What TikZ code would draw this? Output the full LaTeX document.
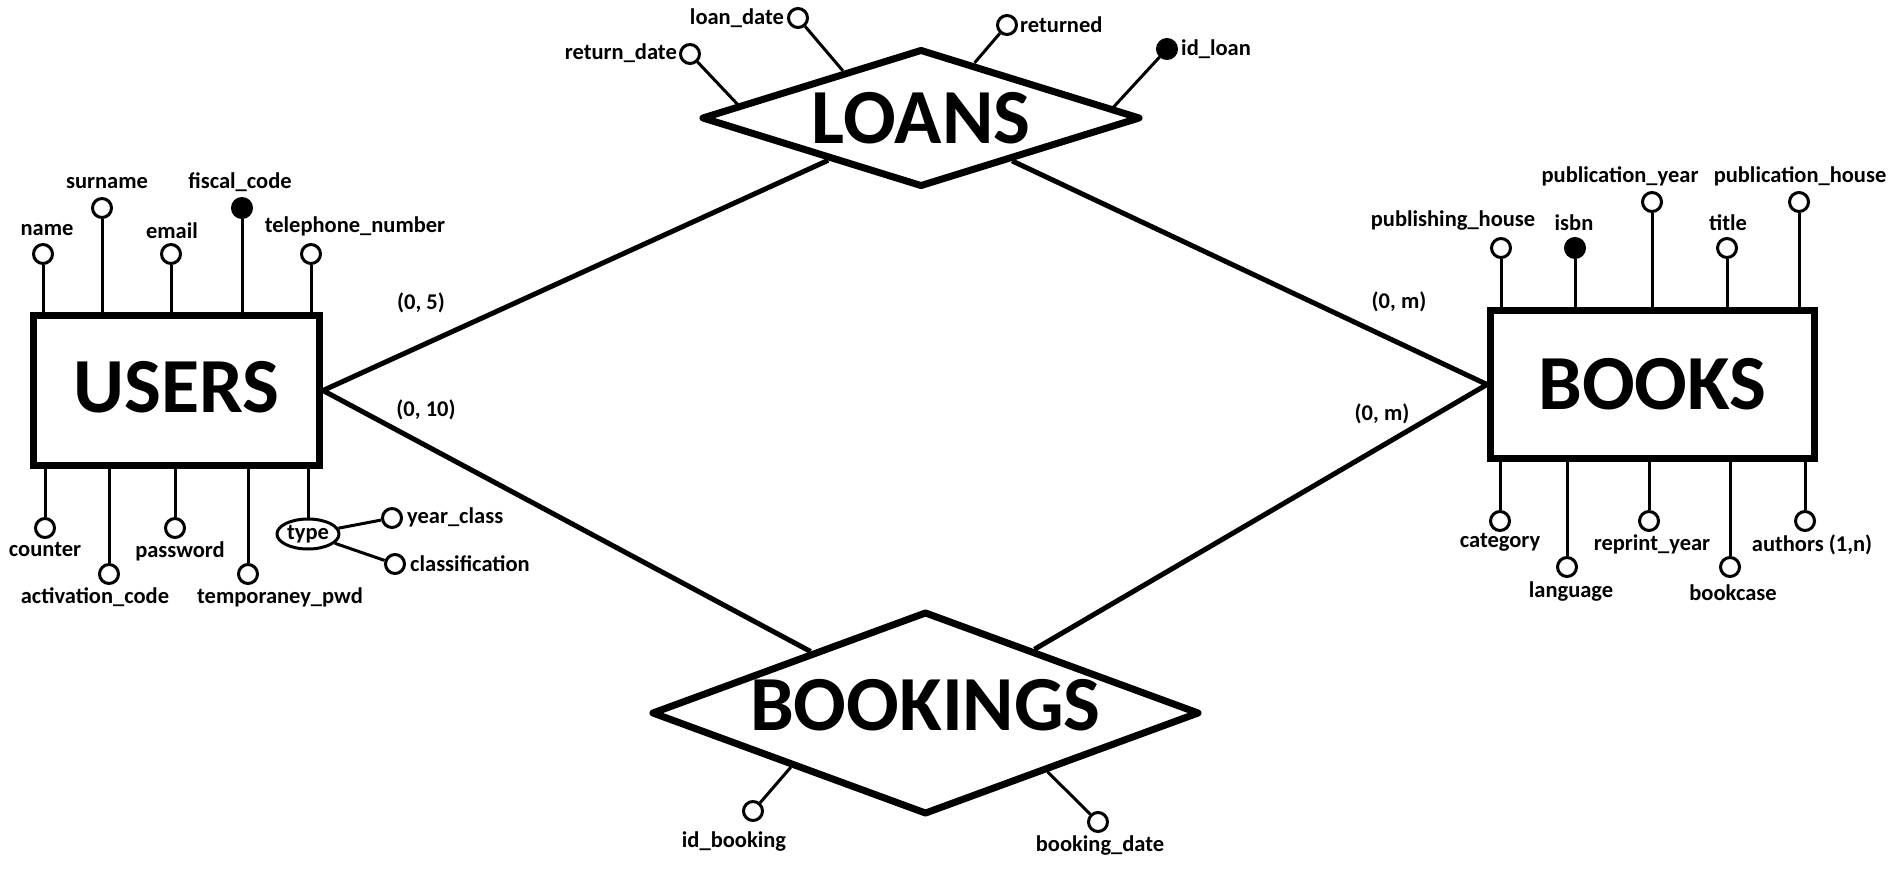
\documentclass[tikz,border=0pt]{standalone}
\usepackage{fontspec}
\setmainfont{Carlito}
\usetikzlibrary{shapes.geometric,calc}

\begin{document}
\begin{tikzpicture}[x=1pt,y=-1pt]
\tikzstyle{entity} = [rectangle, draw, line width=7pt, inner sep=0pt,
font=\bfseries\fontsize{78}{80}\selectfont]
\tikzstyle{relation} = [diamond, draw, line width=7pt, line join=round,
inner sep=0pt, font=\bfseries\fontsize{78}{80}\selectfont]
\tikzstyle{attr} = [circle, draw, line width=3pt, minimum size=19pt, inner sep=0pt]
\tikzstyle{keyattr} = [attr, fill=black]
\tikzstyle{multi} = [ellipse, draw, line width=3pt, inner sep=1pt,
minimum width=57pt, minimum height=30pt, font=\bfseries\fontsize{22.5}{26}\selectfont]
\tikzstyle{lbl} = [inner sep=0pt, font=\bfseries\fontsize{22.5}{26}\selectfont]
\tikzstyle{link} = [draw, line width=3pt]
\tikzstyle{rel} = [draw, line width=5pt]

\useasboundingbox (0,0) rectangle (1902,896);

% entities and relationships
\node [entity, minimum width=286pt, minimum height=150pt, text depth=7pt] (users) at (176.5,390.5) {USERS};
\node [entity, minimum width=324pt, minimum height=148pt] (books) at (1652.5,384.5) {BOOKS};
\node [relation, aspect=3.18, minimum width=439pt, minimum height=138pt] (loans) at (921,118) {LOANS};
\node [relation, aspect=2.7, minimum width=548pt, minimum height=203pt, text depth=16pt] (bookings) at (925.5,713) {BOOKINGS};

\path [rel] (users.east) -- (loans);
\path [rel] (users.east) -- (bookings);
\path [rel] (books.west) -- (loans);
\path [rel] (books.west) -- (bookings);

\node [lbl] (c_ul) at (421,303) {(0, 5)};
\node [lbl] (c_ub) at (426,410) {(0, 10)};
\node [lbl] (c_bl) at (1399,302) {(0, m)};
\node [lbl] (c_bb) at (1382,414) {(0, m)};

% users, top
\node [attr] (a_name) at (43,254) {};
\node [lbl] (l_name) at (47,230) {name};
\node [attr] (a_surname) at (102,208) {};
\node [lbl] (l_surname) at (107,183) {surname};
\node [attr] (a_email) at (171,254) {};
\node [lbl] (l_email) at (172,231) {email};
\node [keyattr] (a_fiscal) at (242,208) {};
\node [lbl] (l_fiscal) at (240,182) {fiscal\_code};
\node [attr] (a_phone) at (311,254) {};
\node [lbl] (l_phone) at (355,226) {telephone\_number};
\path [link] (a_name) -- (a_name |- users.north);
\path [link] (a_surname) -- (a_surname |- users.north);
\path [link] (a_email) -- (a_email |- users.north);
\path [link] (a_fiscal) -- (a_fiscal |- users.north);
\path [link] (a_phone) -- (a_phone |- users.north);

% users, bottom
\node [attr] (a_counter) at (45,528) {};
\node [lbl] (l_counter) at (45,549) {counter};
\node [attr] (a_activ) at (109,574) {};
\node [lbl] (l_activ) at (95,597) {activation\_code};
\node [attr] (a_passwd) at (175,528) {};
\node [lbl] (l_passwd) at (180,551) {password};
\node [attr] (a_temppwd) at (248,574) {};
\node [lbl] (l_temppwd) at (280,597) {temporaney\_pwd};
\node [multi] (type) at (308,534) {type};
\node [attr] (a_yearclass) at (392,518) {};
\node [lbl, anchor=west] (l_yearclass) at (407,517) {year\_class};
\node [attr] (a_classif) at (395,564) {};
\node [lbl, anchor=west] (l_classif) at (410,564) {classification};
\path [link] (a_counter) -- (a_counter |- users.south);
\path [link] (a_activ) -- (a_activ |- users.south);
\path [link] (a_passwd) -- (a_passwd |- users.south);
\path [link] (a_temppwd) -- (a_temppwd |- users.south);
\path [link] (type) -- (type |- users.south);
\path [link] (type) -- (a_yearclass);
\path [link] (type) -- (a_classif);

% loans
\node [attr] (a_retdate) at (690,54) {};
\node [lbl, anchor=east] (l_retdate) at (677,53) {return\_date};
\node [attr] (a_loandate) at (798,18) {};
\node [lbl, anchor=east] (l_loandate) at (784,18) {loan\_date};
\node [attr] (a_returned) at (1007,25) {};
\node [lbl, anchor=west] (l_returned) at (1020,25) {returned};
\node [keyattr] (a_idloan) at (1167,49) {};
\node [lbl, anchor=west] (l_idloan) at (1181,49) {id\_loan};
\coordinate (e_retdate) at ($(loans.west)!0.18!(loans.north)$);
\coordinate (e_loandate) at ($(loans.west)!0.65!(loans.north)$);
\coordinate (e_returned) at ($(loans.north)!0.24!(loans.east)$);
\coordinate (e_idloan) at ($(loans.north)!0.86!(loans.east)$);
\path [link] (a_retdate) -- (e_retdate);
\path [link] (a_loandate) -- (e_loandate);
\path [link] (a_returned) -- (e_returned);
\path [link] (a_idloan) -- (e_idloan);

% books, top
\node [attr] (a_pubhouse) at (1501,248) {};
\node [lbl] (l_pubhouse) at (1453,221) {publishing\_house};
\node [keyattr] (a_isbn) at (1575,248) {};
\node [lbl] (l_isbn) at (1574,223) {isbn};
\node [attr] (a_pubyear) at (1652,202) {};
\node [lbl] (l_pubyear) at (1620,176) {publication\_year};
\node [attr] (a_title) at (1727,248) {};
\node [lbl] (l_title) at (1728,223) {title};
\node [attr] (a_pubhouse2) at (1799,202) {};
\node [lbl] (l_pubhouse2) at (1800,176) {publication\_house};
\path [link] (a_pubhouse) -- (a_pubhouse |- books.north);
\path [link] (a_isbn) -- (a_isbn |- books.north);
\path [link] (a_pubyear) -- (a_pubyear |- books.north);
\path [link] (a_title) -- (a_title |- books.north);
\path [link] (a_pubhouse2) -- (a_pubhouse2 |- books.north);

% books, bottom
\node [attr] (a_category) at (1500,521) {};
\node [lbl] (l_category) at (1500,542) {category};
\node [attr] (a_language) at (1567,567) {};
\node [lbl] (l_language) at (1571,592) {language};
\node [attr] (a_reprint) at (1649,521) {};
\node [lbl] (l_reprint) at (1652,544) {reprint\_year};
\node [attr] (a_bookcase) at (1730,567) {};
\node [lbl] (l_bookcase) at (1733,593) {bookcase};
\node [attr] (a_authors) at (1805,521) {};
\node [lbl] (l_authors) at (1812,545) {authors (1,n)};
\path [link] (a_category) -- (a_category |- books.south);
\path [link] (a_language) -- (a_language |- books.south);
\path [link] (a_reprint) -- (a_reprint |- books.south);
\path [link] (a_bookcase) -- (a_bookcase |- books.south);
\path [link] (a_authors) -- (a_authors |- books.south);

% bookings
\node [attr] (a_idbooking) at (753,811) {};
\node [lbl] (l_idbooking) at (734,842) {id\_booking};
\node [attr] (a_bookdate) at (1098,822) {};
\node [lbl] (l_bookdate) at (1100,846) {booking\_date};
\coordinate (e_idbooking) at ($(bookings.west)!0.515!(bookings.south)$);
\coordinate (e_bookdate) at ($(bookings.south)!0.44!(bookings.east)$);
\path [link] (a_idbooking) -- (e_idbooking);
\path [link] (a_bookdate) -- (e_bookdate);
\end{tikzpicture}
\end{document}
